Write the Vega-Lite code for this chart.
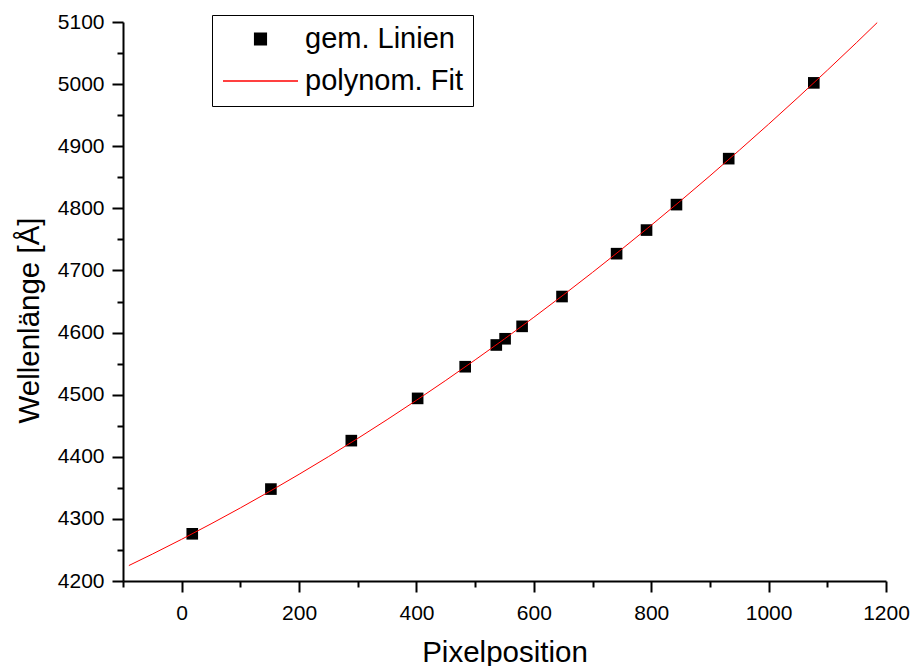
{
  "$schema": "https://vega.github.io/schema/vega-lite/v6.json",
  "width": 763,
  "height": 559,
  "autosize": "none",
  "padding": {"left": 123, "top": 22, "right": 27, "bottom": 85},
  "background": "white",
  "config": {"view": {"stroke": null}, "font": "Liberation Sans"},
  "datasets": {
    "points": [
      {"x": 18, "y": 4276, "series": "gem. Linien"},
      {"x": 152, "y": 4348, "series": "gem. Linien"},
      {"x": 289, "y": 4426, "series": "gem. Linien"},
      {"x": 402, "y": 4494, "series": "gem. Linien"},
      {"x": 483, "y": 4545, "series": "gem. Linien"},
      {"x": 536, "y": 4580, "series": "gem. Linien"},
      {"x": 551, "y": 4590, "series": "gem. Linien"},
      {"x": 580, "y": 4610, "series": "gem. Linien"},
      {"x": 648, "y": 4658, "series": "gem. Linien"},
      {"x": 741, "y": 4727, "series": "gem. Linien"},
      {"x": 792, "y": 4765, "series": "gem. Linien"},
      {"x": 843, "y": 4806, "series": "gem. Linien"},
      {"x": 932, "y": 4880, "series": "gem. Linien"},
      {"x": 1077, "y": 5002, "series": "gem. Linien"}
    ],
    "fit": [
      {"x": -90, "y": 4224.9, "series": "polynom. Fit"},
      {"x": -50, "y": 4243.3, "series": "polynom. Fit"},
      {"x": 0, "y": 4267.2, "series": "polynom. Fit"},
      {"x": 50, "y": 4292.0, "series": "polynom. Fit"},
      {"x": 100, "y": 4317.7, "series": "polynom. Fit"},
      {"x": 150, "y": 4344.3, "series": "polynom. Fit"},
      {"x": 200, "y": 4371.8, "series": "polynom. Fit"},
      {"x": 250, "y": 4400.2, "series": "polynom. Fit"},
      {"x": 300, "y": 4429.6, "series": "polynom. Fit"},
      {"x": 350, "y": 4459.8, "series": "polynom. Fit"},
      {"x": 400, "y": 4491.0, "series": "polynom. Fit"},
      {"x": 450, "y": 4523.0, "series": "polynom. Fit"},
      {"x": 500, "y": 4556.0, "series": "polynom. Fit"},
      {"x": 550, "y": 4589.8, "series": "polynom. Fit"},
      {"x": 600, "y": 4624.6, "series": "polynom. Fit"},
      {"x": 650, "y": 4660.3, "series": "polynom. Fit"},
      {"x": 700, "y": 4696.9, "series": "polynom. Fit"},
      {"x": 750, "y": 4734.4, "series": "polynom. Fit"},
      {"x": 800, "y": 4772.8, "series": "polynom. Fit"},
      {"x": 850, "y": 4812.1, "series": "polynom. Fit"},
      {"x": 900, "y": 4852.3, "series": "polynom. Fit"},
      {"x": 950, "y": 4893.5, "series": "polynom. Fit"},
      {"x": 1000, "y": 4935.5, "series": "polynom. Fit"},
      {"x": 1050, "y": 4978.4, "series": "polynom. Fit"},
      {"x": 1100, "y": 5022.3, "series": "polynom. Fit"},
      {"x": 1150, "y": 5067.0, "series": "polynom. Fit"},
      {"x": 1185, "y": 5099.0, "series": "polynom. Fit"}
    ]
  },
  "encoding": {
    "x": {
      "field": "x",
      "type": "quantitative",
      "scale": {"domain": [-100, 1200], "nice": false, "zero": false},
      "axis": {
        "title": "Pixelposition",
        "values": [-100, 0, 100, 200, 300, 400, 500, 600, 700, 800, 900, 1000, 1100, 1200],
        "format": "d",
        "labelExpr": "datum.value % 200 === 0 ? datum.label : ''",
        "labelOverlap": false,
        "labelFlush": false,
        "labelBound": false,
        "grid": false,
        "domainColor": "black",
        "domainWidth": 2,
        "tickColor": "black",
        "tickWidth": 2,
        "tickSize": {"condition": {"test": "datum.value % 200 !== 0", "value": 6}, "value": 11},
        "labelFont": "Liberation Sans",
        "labelFontSize": 21,
        "labelColor": "black",
        "labelPadding": 10,
        "titleFont": "Liberation Sans",
        "titleFontSize": 29.5,
        "titleFontWeight": "normal",
        "titleColor": "black",
        "titleBaseline": "alphabetic",
        "titleY": 80
      }
    },
    "y": {
      "field": "y",
      "type": "quantitative",
      "scale": {"domain": [4200, 5100], "nice": false, "zero": false},
      "axis": {
        "title": "Wellenlänge [Å]",
        "values": [4200, 4250, 4300, 4350, 4400, 4450, 4500, 4550, 4600, 4650, 4700, 4750, 4800, 4850, 4900, 4950, 5000, 5050, 5100],
        "format": "d",
        "labelExpr": "datum.value % 100 === 0 ? datum.label : ''",
        "labelOverlap": false,
        "labelFlush": false,
        "labelBound": false,
        "grid": false,
        "domainColor": "black",
        "domainWidth": 2,
        "tickColor": "black",
        "tickWidth": 2,
        "tickSize": {"condition": {"test": "datum.value % 100 !== 0", "value": 6}, "value": 11},
        "labelFont": "Liberation Sans",
        "labelFontSize": 21,
        "labelColor": "black",
        "labelPadding": 8,
        "titleFont": "Liberation Sans",
        "titleFontSize": 29.5,
        "titleFontWeight": "normal",
        "titleColor": "black",
        "titleBaseline": "alphabetic",
        "titleAngle": -90,
        "titleAlign": "center",
        "titleX": -85,
        "titleY": 298
      }
    }
  },
  "layer": [
    {
      "data": {"name": "points"},
      "mark": {"type": "point", "filled": true, "size": 5625, "opacity": 1},
      "encoding": {
        "color": {
          "field": "series",
          "type": "nominal",
          "scale": {"domain": ["gem. Linien", "polynom. Fit"], "range": ["black", "red"]},
          "legend": {
            "title": null,
            "orient": "none",
            "legendX": 89,
            "legendY": -7,
            "padding": 10,
            "rowPadding": 13,
            "clipHeight": 28,
            "labelFont": "Liberation Sans",
            "labelFontSize": 29,
            "labelColor": "black",
            "labelOffset": 6,
            "labelLimit": 400,
            "symbolSize": 5625,
            "strokeColor": "black",
            "encode": {
              "symbols": {
                "update": {
                  "size": {"value": 5625},
                  "fill": {"scale": "color", "field": "value"},
                  "stroke": {"scale": "color", "field": "value"},
                  "strokeWidth": {"value": 1},
                  "opacity": {"value": 1}
                }
              },
              "legend": {"update": {"stroke": {"value": "black"}, "strokeWidth": {"value": 1.5}}}
            }
          }
        },
        "shape": {
          "field": "series",
          "type": "nominal",
          "scale": {"domain": ["gem. Linien", "polynom. Fit"], "range": ["M-0.155,-0.155H0.155V0.155H-0.155Z", "stroke"]},
          "legend": {
            "title": null,
            "orient": "none",
            "legendX": 89,
            "legendY": -7,
            "padding": 10,
            "rowPadding": 13,
            "clipHeight": 28,
            "labelFont": "Liberation Sans",
            "labelFontSize": 29,
            "labelColor": "black",
            "labelOffset": 6,
            "labelLimit": 400,
            "symbolSize": 5625,
            "strokeColor": "black"
          }
        }
      }
    },
    {
      "data": {"name": "fit"},
      "mark": {"type": "line", "strokeWidth": 1, "interpolate": "monotone"},
      "encoding": {
        "color": {
          "field": "series",
          "type": "nominal",
          "scale": {"domain": ["gem. Linien", "polynom. Fit"], "range": ["black", "red"]}
        }
      }
    }
  ]
}
